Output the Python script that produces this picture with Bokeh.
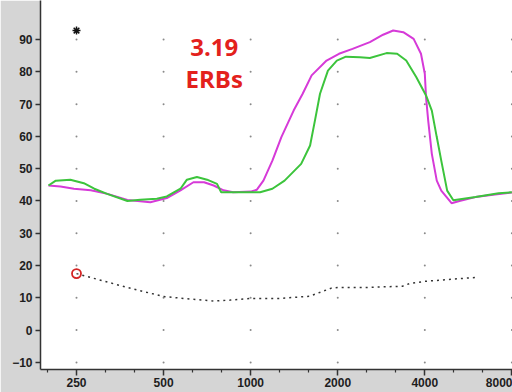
from bokeh.plotting import figure
from bokeh.models import FixedTicker, Range1d, Label, PrintfTickFormatter, BoxAnnotation
from bokeh.embed import file_html
from bokeh.resources import INLINE

# ---- data ----
x_ticks = [250, 500, 1000, 2000, 4000, 8000]
y_ticks = [-10, 0, 10, 20, 30, 40, 50, 60, 70, 80, 90]

magenta_freq = [200, 220, 245, 280, 320, 375, 450, 513, 572, 634, 690, 745, 806, 870,
                1000, 1051, 1107, 1189, 1277, 1408, 1513, 1625, 1830, 2020, 2250, 2583,
                2870, 3110, 3370, 3660, 3880, 4000, 4040, 4110, 4230, 4400, 4560, 4950,
                5270, 5990, 7000, 8000]
magenta_db = [44.8, 44.5, 43.8, 43.3, 42.2, 40.3, 39.6, 40.9, 43.3, 45.8, 45.8, 44.8, 43.3, 42.7,
              42.9, 43.5, 46.3, 52.5, 59.8, 68.0, 73.2, 78.9, 83.5, 85.6, 87.1, 89.2,
              91.5, 92.8, 92.3, 90.2, 85.6, 79.4, 72.1, 64.9, 54.6, 46.3, 43.2, 39.3,
              40.0, 41.2, 42.0, 42.6]

green_freq = [200, 212, 238, 265, 288, 319, 375, 415, 474, 513, 572, 602, 652, 707, 765,
              791, 920, 1078, 1189, 1310, 1495, 1605, 1668, 1737, 1850, 1986, 2135, 2387,
              2583, 2950, 3210, 3450, 3740, 4040, 4230, 4400, 4560, 4780, 5020, 5990,
              7200, 8000]
green_db = [44.8, 46.3, 46.6, 45.5, 43.8, 42.2, 40.0, 40.4, 40.7, 41.4, 43.8, 46.6, 47.4, 46.6, 45.3,
            42.7, 42.7, 42.7, 43.8, 46.3, 51.5, 57.2, 64.9, 73.2, 80.4, 83.5, 84.7, 84.5,
            84.3, 85.8, 85.6, 83.5, 78.3, 72.7, 68.0, 59.8, 52.5, 43.2, 40.2, 41.2,
            42.4, 42.7]

thresh_freq = [250, 375, 500, 620, 744, 850, 1000, 1250, 1600, 1900, 2000, 2500, 3350,
               3540, 4000, 5000, 6000]
thresh_db = [17.5, 13.2, 10.4, 9.6, 9.0, 9.3, 9.8, 9.8, 10.5, 13.0, 13.2, 13.2, 13.6,
             14.4, 15.1, 15.8, 16.3]

marker_freq = [250]
marker_db = [17.5]
star_freq = [250]
star_db = [92.8]
erb_value = "3.19"
erb_unit = "ERBs"

# ---- figure ----
p = figure(width=512, height=392, x_axis_type="log",
           x_range=Range1d(187.7, 8040), y_range=Range1d(-12.2, 102.1),
           output_backend="svg", toolbar_location=None,
           min_border_left=40, min_border_right=0, min_border_top=0, min_border_bottom=23)
p.border_fill_color = "#d5d5d5"
p.background_fill_color = "white"
p.outline_line_color = None
p.grid.visible = False

minor = [250 * 2 ** (k / 3.0) for k in range(-1, 16) if k % 3 != 0]
p.xaxis.ticker = FixedTicker(ticks=x_ticks, minor_ticks=minor)
p.xaxis.formatter = PrintfTickFormatter(format="%d")
p.yaxis.ticker = FixedTicker(ticks=y_ticks)

for ax in (p.xaxis, p.yaxis):
    ax.axis_line_color = "#333333"
    ax.axis_line_width = 1.5
    ax.major_tick_line_color = "#333333"
    ax.major_tick_line_width = 1.5
    ax.minor_tick_line_color = "#333333"
    ax.minor_tick_line_width = 1.2
    ax.major_tick_in = 0
    ax.minor_tick_in = 0
    ax.major_label_text_font = "Liberation Sans"
    ax.major_label_text_font_style = "bold"
    ax.major_label_text_font_size = "12px"
    ax.major_label_text_color = "#1e1e1e"
p.xaxis.major_tick_out = 6
p.xaxis.minor_tick_out = 3
p.xaxis.major_label_standoff = 2
p.yaxis.major_tick_out = 5
p.yaxis.minor_tick_out = 0
p.yaxis.major_label_standoff = 3

# white margins of the original screenshot (left edge and top-left corner)
p.add_layout(BoxAnnotation(left=0, right=8, top=0, bottom=392,
                           left_units="canvas", right_units="canvas",
                           top_units="canvas", bottom_units="canvas",
                           fill_color="white", fill_alpha=1, line_color=None, level="overlay"))
p.add_layout(BoxAnnotation(left=0, right=39, top=0, bottom=15,
                           left_units="canvas", right_units="canvas",
                           top_units="canvas", bottom_units="canvas",
                           fill_color="white", fill_alpha=1, line_color=None, level="overlay"))

# dot grid
gx = [x for x in x_ticks for _ in y_ticks]
gy = [y for _ in x_ticks for y in y_ticks]
p.scatter(gx, gy, size=2, color="#8a8a8a", line_color=None)

# curves
p.line(thresh_freq, thresh_db, line_color="#333333", line_width=1.5, line_dash="2 4")
p.line(magenta_freq, magenta_db, line_color="#d63ad8", line_width=2)
p.line(green_freq, green_db, line_color="#3cc43c", line_width=2)

p.scatter(marker_freq, marker_db, marker="circle", size=9, fill_color=None,
          line_color="#d42424", line_width=1.8)
p.scatter(star_freq, star_db, marker="asterisk", size=8, line_color="#111111", line_width=1.5)

p.add_layout(Label(x=748, y=87.5, text=erb_value, text_align="center",
                   text_baseline="alphabetic", text_font="Open Sans",
                   text_font_style="bold", text_font_size="24px", text_color="#e3211c"))
p.add_layout(Label(x=748, y=77.9, text=erb_unit, text_align="center",
                   text_baseline="alphabetic", text_font="Open Sans",
                   text_font_style="bold", text_font_size="24px", text_color="#e3211c"))

open("out.html", "w").write(file_html(p, INLINE))
